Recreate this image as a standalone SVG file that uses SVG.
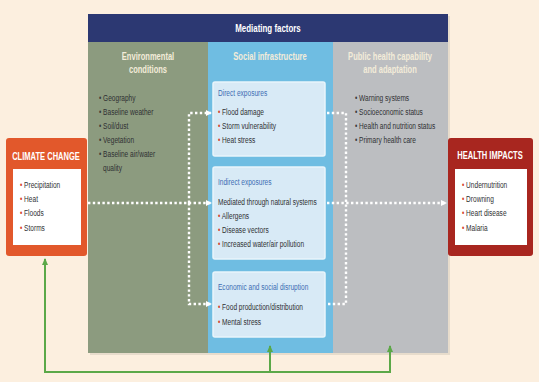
<svg xmlns="http://www.w3.org/2000/svg" width="539" height="382" viewBox="0 0 539 382">
<style>
text{font-family:"Liberation Sans",Arial,sans-serif}
.t{font-size:9.5px;fill:#2f3033}
.h{font-size:11px;font-weight:bold;fill:#ffffff}
.ch{font-size:10.5px;font-weight:bold;fill:#f3ecd9}
.st{font-size:9.5px;fill:#3d6db3}
.bx{font-size:10.5px;font-weight:bold;fill:#ffffff}
.rb{fill:#d4432b}
.db{fill:#3a3a3a}
.sub{fill:#d8eaf6;stroke:#e9f5fb;stroke-width:1.5}
.dot{fill:none;stroke:#ffffff;stroke-width:2.4;stroke-dasharray:2.4 2.4}
.grn{fill:none;stroke:#5ba848;stroke-width:2}
</style>
<defs>
<marker id="wa" viewBox="0 0 6 6" refX="5" refY="3" markerWidth="6" markerHeight="6" markerUnits="userSpaceOnUse" orient="auto"><path d="M0,0 L6,3 L0,6 z" fill="#ffffff"/></marker>
<marker id="ga" viewBox="0 0 8 8" refX="6" refY="4" markerWidth="8" markerHeight="8" markerUnits="userSpaceOnUse" orient="auto-start-reverse"><path d="M0,1 L7,4 L0,7 z" fill="#5ba848"/></marker>
</defs>
<rect width="539" height="382" fill="#fcefdf"/>
<g id="mediating">
<rect x="90" y="16" width="360" height="339" fill="#d9cfc0" opacity="0.6"/>
<rect x="88" y="14" width="360" height="28" fill="#2c3872"/>
<text class="h" text-anchor="middle" transform="translate(268 32) scale(0.72 1)">Mediating factors</text>
</g>
<g id="environmental">
<rect x="88" y="42" width="120" height="311" fill="#8c9b7f"/>
<text class="ch" text-anchor="middle" transform="translate(148 60) scale(0.72 1)">Environmental</text>
<text class="ch" text-anchor="middle" transform="translate(148 73) scale(0.72 1)">conditions</text>
<text class="t" transform="translate(99 101) scale(0.69 1)"><tspan class="db">•</tspan> Geography</text>
<text class="t" transform="translate(99 115) scale(0.69 1)"><tspan class="db">•</tspan> Baseline weather</text>
<text class="t" transform="translate(99 129) scale(0.69 1)"><tspan class="db">•</tspan> Soil/dust</text>
<text class="t" transform="translate(99 143) scale(0.69 1)"><tspan class="db">•</tspan> Vegetation</text>
<text class="t" transform="translate(99 157) scale(0.69 1)"><tspan class="db">•</tspan> Baseline air/water</text>
<text class="t" transform="translate(103 171) scale(0.69 1)">quality</text>
</g>
<g id="social">
<rect x="208" y="42" width="125" height="311" fill="#6fbde2"/>
<text class="ch" text-anchor="middle" transform="translate(270 60) scale(0.72 1)">Social infrastructure</text>
</g>
<g id="public">
<rect x="333" y="42" width="115" height="311" fill="#bcbec1"/>
<text class="ch" text-anchor="middle" transform="translate(390 60) scale(0.72 1)">Public health capability</text>
<text class="ch" text-anchor="middle" transform="translate(390 73) scale(0.72 1)">and adaptation</text>
<text class="t" transform="translate(355 101) scale(0.69 1)"><tspan class="db">•</tspan> Warning systems</text>
<text class="t" transform="translate(355 115) scale(0.69 1)"><tspan class="db">•</tspan> Socioeconomic status</text>
<text class="t" transform="translate(355 129) scale(0.69 1)"><tspan class="db">•</tspan> Health and nutrition status</text>
<text class="t" transform="translate(355 143) scale(0.69 1)"><tspan class="db">•</tspan> Primary health care</text>
</g>
<g id="direct">
<rect class="sub" x="213" y="82" width="112" height="74" rx="2"/>
<text class="st" transform="translate(218 96) scale(0.69 1)">Direct exposures</text>
<text class="t" transform="translate(218 115) scale(0.69 1)"><tspan class="rb">•</tspan> Flood damage</text>
<text class="t" transform="translate(218 129) scale(0.69 1)"><tspan class="rb">•</tspan> Storm vulnerability</text>
<text class="t" transform="translate(218 143) scale(0.69 1)"><tspan class="rb">•</tspan> Heat stress</text>
</g>
<g id="indirect">
<rect class="sub" x="213" y="167" width="112" height="92" rx="2"/>
<text class="st" transform="translate(218 185) scale(0.69 1)">Indirect exposures</text>
<text class="t" transform="translate(218 205) scale(0.69 1)">Mediated through natural systems</text>
<text class="t" transform="translate(218 219) scale(0.69 1)"><tspan class="rb">•</tspan> Allergens</text>
<text class="t" transform="translate(218 233) scale(0.69 1)"><tspan class="rb">•</tspan> Disease vectors</text>
<text class="t" transform="translate(218 247) scale(0.69 1)"><tspan class="rb">•</tspan> Increased water/air pollution</text>
</g>
<g id="economic">
<rect class="sub" x="213" y="272" width="112" height="65" rx="2"/>
<text class="st" transform="translate(218 290) scale(0.69 1)">Economic and social disruption</text>
<text class="t" transform="translate(218 310) scale(0.69 1)"><tspan class="rb">•</tspan> Food production/distribution</text>
<text class="t" transform="translate(218 325) scale(0.69 1)"><tspan class="rb">•</tspan> Mental stress</text>
</g>
<g id="climate-change">
<rect x="6" y="138" width="81" height="118" rx="3" fill="#e2582b"/>
<text class="bx" text-anchor="middle" transform="translate(46 160) scale(0.72 1)">CLIMATE CHANGE</text>
<rect x="13" y="169" width="68" height="76" fill="#ffffff"/>
<text class="t" transform="translate(20 188) scale(0.69 1)"><tspan class="rb">•</tspan> Precipitation</text>
<text class="t" transform="translate(20 202) scale(0.69 1)"><tspan class="rb">•</tspan> Heat</text>
<text class="t" transform="translate(20 216) scale(0.69 1)"><tspan class="rb">•</tspan> Floods</text>
<text class="t" transform="translate(20 231) scale(0.69 1)"><tspan class="rb">•</tspan> Storms</text>
</g>
<g id="health-impacts">
<rect x="448" y="138" width="85" height="118" rx="3" fill="#a8261f"/>
<text class="bx" text-anchor="middle" transform="translate(490 159) scale(0.72 1)">HEALTH IMPACTS</text>
<rect x="455" y="169" width="72" height="76" fill="#ffffff"/>
<text class="t" transform="translate(462 188) scale(0.69 1)"><tspan class="rb">•</tspan> Undernutrition</text>
<text class="t" transform="translate(462 202) scale(0.69 1)"><tspan class="rb">•</tspan> Drowning</text>
<text class="t" transform="translate(462 216) scale(0.69 1)"><tspan class="rb">•</tspan> Heart disease</text>
<text class="t" transform="translate(462 231) scale(0.69 1)"><tspan class="rb">•</tspan> Malaria</text>
</g>
<g id="connectors">
<path class="dot" d="M88 203 H211" marker-end="url(#wa)"/>
<path class="dot" d="M327 203 H446" marker-end="url(#wa)"/>
<path class="dot" d="M189 203 V113 H211" marker-end="url(#wa)"/>
<path class="dot" d="M189 203 V304 H211" marker-end="url(#wa)"/>
<path class="dot" d="M327 113 H346 V304 H327"/>
<path class="grn" d="M45 259 V372 H390 V346" marker-start="url(#ga)" marker-end="url(#ga)"/>
<path class="grn" d="M270 372 V346" marker-end="url(#ga)"/>
</g>
</svg>
